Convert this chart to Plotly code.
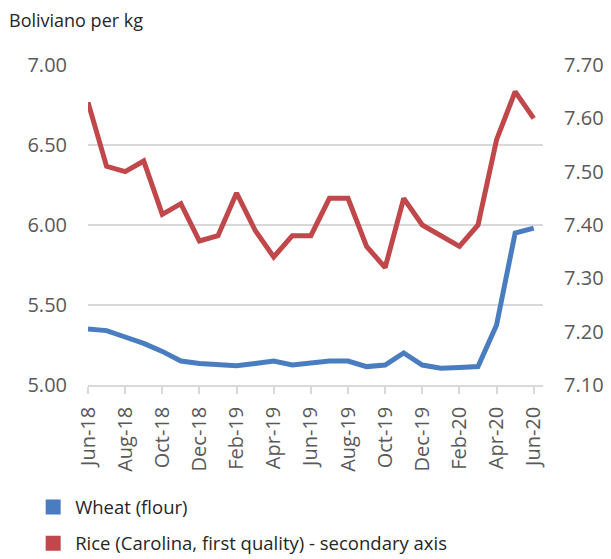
import plotly.graph_objects as go

# Monthly retail prices, Boliviano per kg
months = ["Jun-18", "Jul-18", "Aug-18", "Sep-18", "Oct-18", "Nov-18", "Dec-18",
          "Jan-19", "Feb-19", "Mar-19", "Apr-19", "May-19", "Jun-19", "Jul-19",
          "Aug-19", "Sep-19", "Oct-19", "Nov-19", "Dec-19", "Jan-20", "Feb-20",
          "Mar-20", "Apr-20", "May-20", "Jun-20"]

wheat_flour = [5.35, 5.34, 5.30, 5.26, 5.21, 5.15, 5.135, 5.125, 5.12, 5.135,
               5.15, 5.125, 5.135, 5.15, 5.15, 5.115, 5.125, 5.20, 5.125, 5.105,
               5.11, 5.115, 5.375, 5.95, 5.98]

rice_carolina = [7.63, 7.51, 7.50, 7.52, 7.42, 7.44, 7.37, 7.38, 7.46, 7.39,
                 7.34, 7.38, 7.38, 7.45, 7.45, 7.36, 7.32, 7.45, 7.40, 7.38,
                 7.36, 7.40, 7.56, 7.65, 7.60]

left_ticks = [5.00, 5.50, 6.00, 6.50, 7.00]
right_ticks = [7.10, 7.20, 7.30, 7.40, 7.50, 7.60, 7.70]

wheat_name = "Wheat (flour)"
rice_name = "Rice (Carolina, first quality) - secondary axis"

BLUE = "#4a7dc0"
RED = "#c0474a"
GRID = "#d9d9d9"
TICK = "#595959"
FONT = "Open Sans, DejaVu Sans, sans-serif"

fig = go.Figure()

fig.add_trace(go.Scatter(x=months, y=wheat_flour, mode="lines", name=wheat_name,
                         line=dict(color=BLUE, width=5), showlegend=False,
                         yaxis="y"))
fig.add_trace(go.Scatter(x=months, y=rice_carolina, mode="lines", name=rice_name,
                         line=dict(color=RED, width=5), showlegend=False,
                         yaxis="y2"))

# Square legend swatches
fig.add_trace(go.Scatter(x=[None], y=[None], mode="markers", name=wheat_name,
                         legendgroup="w",
                         marker=dict(symbol="square", size=15, color=BLUE)))
fig.add_trace(go.Scatter(x=[None], y=[None], mode="markers", name=rice_name,
                         legendgroup="r",
                         marker=dict(symbol="square", size=15, color=RED)))

fig.update_layout(
    width=611, height=559,
    margin=dict(l=88, r=68, t=65, b=174, autoexpand=False),
    paper_bgcolor="white", plot_bgcolor="white",
    font=dict(family=FONT, color=TICK),
    xaxis=dict(type="category", range=[0, 24.5], tickangle=-90,
               tickvals=months[::2], ticktext=months[::2],
               showgrid=False, showline=True, linecolor=GRID, linewidth=1.5,
               ticks="outside", ticklen=7, tickcolor=GRID, tickwidth=1.5,
               ticklabelstandoff=5,
               tickfont=dict(size=20, color=TICK)),
    yaxis=dict(range=[5.0, 7.0], tickvals=left_ticks,
               ticktext=[f"{v:.2f}" for v in left_ticks],
               showgrid=True, gridcolor=GRID, gridwidth=1.5, zeroline=False,
               showline=False, ticks="", ticklabelstandoff=20,
               tickfont=dict(size=20, color=TICK)),
    yaxis2=dict(range=[7.10, 7.70], tickvals=right_ticks,
                ticktext=[f"{v:.2f}" for v in right_ticks],
                overlaying="y", side="right", showgrid=False, zeroline=False,
                showline=False, ticks="", ticklabelstandoff=20,
                tickfont=dict(size=20, color=TICK)),
    legend=dict(xref="container", yref="container", x=0.051, y=0.126,
                xanchor="left", yanchor="top", tracegroupgap=9,
                itemwidth=34, bgcolor="rgba(0,0,0,0)",
                font=dict(size=18.5, color="#262626"), itemclick=False),
    annotations=[dict(text="Boliviano per kg", xref="paper", yref="paper",
                      x=-0.178, y=1.14, xanchor="left", yanchor="middle",
                      showarrow=False, font=dict(size=18, color="#262626"))],
)

fig.write_html("out.html")
